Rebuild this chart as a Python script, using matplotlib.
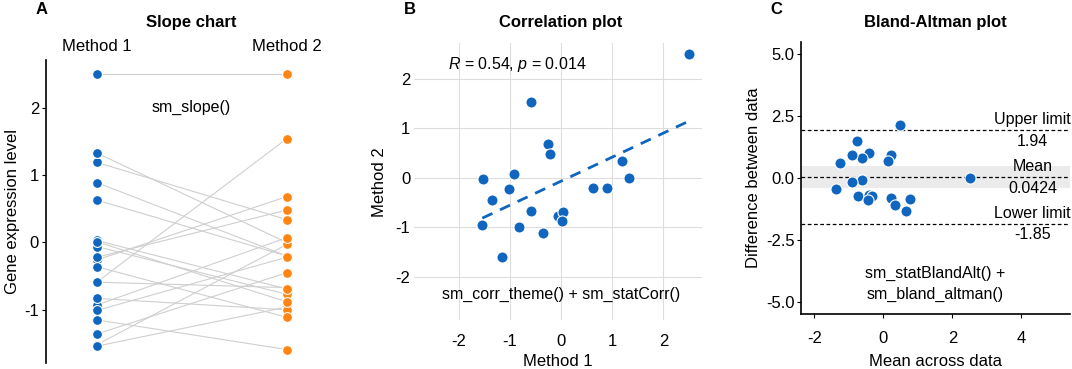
import numpy as np
import matplotlib
matplotlib.use("Agg")
import matplotlib.pyplot as plt

plt.rcParams["font.family"] = ["Liberation Sans", "DejaVu Sans"]
plt.rcParams["mathtext.fontset"] = "custom"
plt.rcParams["mathtext.rm"] = "Liberation Sans"
plt.rcParams["mathtext.it"] = "Liberation Sans:italic"
plt.rcParams["axes.unicode_minus"] = False

method1 = [2.50, -0.59, -0.26, -0.22, 1.19, 1.33, 0.63, 0.89, -1.52, -0.93,
           -1.01, -1.36, -1.54, -0.59, -0.83, -0.36, -0.06, 0.03, 0.01, -1.15]
method2 = [2.50, 1.54, 0.68, 0.48, 0.34, 0.00, -0.20, -0.20, -0.03, 0.07,
           -0.22, -0.45, -0.96, -0.67, -1.00, -1.11, -0.77, -0.69, -0.88, -1.59]
groups = ["Method 1", "Method 2"]

# Bland-Altman statistics as printed on the chart
ba_mean = 0.0424
ba_upper = 1.94
ba_lower = -1.85
ba_mean_ci = [-0.41, 0.49]

BLUE = "#1065BF"
ORANGE = "#FF8512"
GRID = "#DDDDDD"
FS = 12      # ticks / axis labels
FS_ANN = 11.5
FS_TITLE = 12

m1 = np.array(method1)
m2 = np.array(method2)

fig = plt.figure(figsize=(10.72, 3.69), dpi=100)
axA = fig.add_axes([0.0429, 0.0163, 0.2718, 0.8211])
axB = fig.add_axes([0.3865, 0.1328, 0.2681, 0.7499])
axC = fig.add_axes([0.7472, 0.1490, 0.2509, 0.7380])

# --- A: slope chart
for a, b in zip(m1, m2):
    axA.plot([1, 2], [a, b], color="#CFCFCF", lw=0.8, zorder=1)
axA.scatter(np.full(len(m1), 1), m1, s=50, color=BLUE, edgecolor="white", lw=0.8, zorder=3)
axA.scatter(np.full(len(m2), 2), m2, s=50, color=ORANGE, edgecolor="white", lw=0.8, zorder=3)
axA.set_xlim(0.733, 2.267)
axA.set_ylim(-1.79, 2.71)
axA.set_yticks([-1, 0, 1, 2])
axA.xaxis.tick_top()
axA.set_xticks([1, 2])
axA.set_xticklabels(groups, fontsize=FS)
axA.tick_params(axis="x", length=0, pad=4)
axA.tick_params(axis="y", labelsize=FS, length=3, width=0.8, color="black", pad=2)
for s in ["top", "right", "bottom"]:
    axA.spines[s].set_visible(False)
axA.spines["left"].set_linewidth(1.2)
axA.set_ylabel("Gene expression level", fontsize=FS, labelpad=3)
axA.text(1.5, 2.0, "sm_slope()", ha="center", va="center", fontsize=FS_ANN)
fig.text(191.7 / 1072, 1 - 22.7 / 369, "Slope chart", ha="center", va="center",
         fontsize=FS_TITLE, fontweight="bold")
fig.text(42 / 1072, 1 - 10 / 369, "A", ha="center", va="center", fontsize=FS_TITLE, fontweight="bold")

# --- B: correlation plot
axB.set_axisbelow(True)
axB.grid(True, color=GRID, lw=0.8)
axB.scatter(m1, m2, s=64, color=BLUE, edgecolor="white", lw=0.8, zorder=3)
slope, icpt = np.polyfit(m1, m2, 1)
xs = np.array([m1.min(), m1.max()])
axB.plot(xs, slope * xs + icpt, color=BLUE, lw=2, ls=(0, (4, 3)), zorder=2)
axB.set_xlim(-2.87, 2.75)
axB.set_ylim(-2.87, 2.72)
axB.set_xticks([-2, -1, 0, 1, 2])
axB.set_yticks([-2, -1, 0, 1, 2])
axB.tick_params(axis="x", length=0, labelsize=FS, pad=10)
axB.tick_params(axis="y", length=0, labelsize=FS, pad=3)
for s in axB.spines.values():
    s.set_visible(False)
axB.set_xlabel("Method 1", fontsize=FS, labelpad=4)
axB.set_ylabel("Method 2", fontsize=FS, labelpad=6)
axB.text(-0.865, 2.30, r"$R$ = 0.54, $p$ = 0.014", ha="center", va="center", fontsize=FS_ANN)
axB.text(0.0, -2.36, "sm_corr_theme() + sm_statCorr()", ha="center", va="center", fontsize=FS_ANN)
fig.text(561 / 1072, 1 - 22.7 / 369, "Correlation plot", ha="center", va="center",
         fontsize=FS_TITLE, fontweight="bold")
fig.text(410 / 1072, 1 - 10 / 369, "B", ha="center", va="center", fontsize=FS_TITLE, fontweight="bold")

# --- C: Bland-Altman plot
avg = (m1 + m2) / 2
diff = m2 - m1
axC.axhspan(ba_mean_ci[0], ba_mean_ci[1], color="#EBEBEB", lw=0, zorder=0)
for yv in [ba_upper, ba_mean, ba_lower]:
    axC.axhline(yv, color="black", lw=0.9, ls=(0, (3, 2)), zorder=1)
axC.scatter(avg, diff, s=64, color=BLUE, edgecolor="white", lw=0.8, zorder=3)
axC.set_xlim(-2.39, 5.41)
axC.set_ylim(-5.5, 5.5)
axC.set_xticks([-2, 0, 2, 4])
axC.set_yticks([-5, -2.5, 0, 2.5, 5])
axC.set_yticklabels(["-5.0", "-2.5", "0.0", "2.5", "5.0"])
axC.tick_params(axis="y", labelsize=FS, length=3, width=0.8, pad=1.5)
axC.tick_params(axis="x", labelsize=FS, length=3, width=0.8, pad=9)
for s in ["top", "right"]:
    axC.spines[s].set_visible(False)
for s in ["left", "bottom"]:
    axC.spines[s].set_linewidth(1.2)
axC.set_xlabel("Mean across data", fontsize=FS, labelpad=6)
axC.set_ylabel("Difference between data", fontsize=FS, labelpad=4)
lx = 4.32
for yv, name, val in [(ba_upper, "Upper limit", "1.94"), (ba_mean, "Mean", "0.0424"),
                      (ba_lower, "Lower limit", "-1.85")]:
    axC.text(lx, yv + 0.1, name, ha="center", va="bottom", fontsize=FS_ANN, clip_on=False)
    axC.text(lx, yv - 0.15, val, ha="center", va="top", fontsize=FS_ANN)
axC.text(1.5, -4.3, "sm_statBlandAlt() +\nsm_bland_altman()", ha="center", va="center",
         fontsize=FS_ANN, linespacing=1.5)
fig.text(935 / 1072, 1 - 22.7 / 369, "Bland-Altman plot", ha="center", va="center",
         fontsize=FS_TITLE, fontweight="bold")
fig.text(776.7 / 1072, 1 - 10 / 369, "C", ha="center", va="center", fontsize=FS_TITLE, fontweight="bold")

fig.savefig("out.png", dpi=100)
